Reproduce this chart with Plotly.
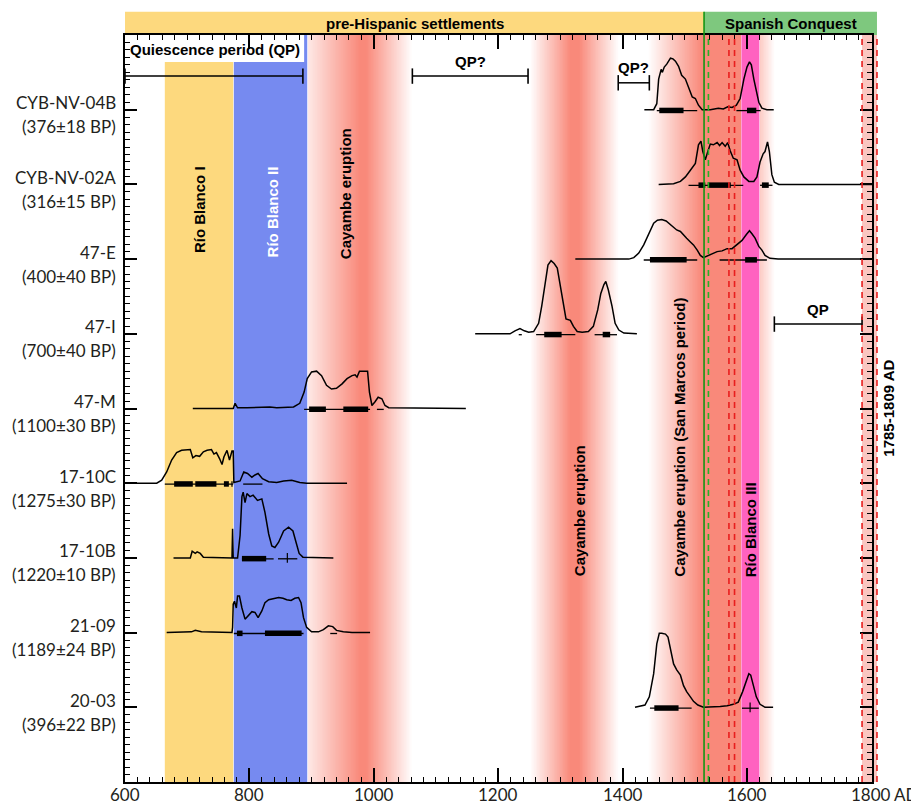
import numpy as np
import plotly.graph_objects as go

# ---------------- data ----------------
sample_names = ["CYB-NV-04B", "CYB-NV-02A", "47-E", "47-I", "47-M",
                "17-10C", "17-10B", "21-09", "20-03"]
sample_ages = ["(376±18 BP)", "(316±15 BP)", "(400±40 BP)", "(700±40 BP)",
               "(1100±30 BP)", "(1275±30 BP)", "(1220±10 BP)", "(1189±24 BP)",
               "(396±22 BP)"]
sample_levels = [9, 8, 7, 6, 5, 4, 3, 2, 1]

x_tick_vals = [600, 800, 1000, 1200, 1400, 1600, 1800]
x_tick_text = ["600", "800", "1000", "1200", "1400", "1600", "1800"]

# calibrated probability curves (year AD, relative probability)
cyb04b_yr = [1435, 1450, 1455, 1458, 1462, 1464, 1467, 1471, 1477, 1481, 1485, 1490, 1495, 1501,
             1506, 1512, 1517, 1522, 1528, 1541, 1554, 1562, 1569, 1576, 1583, 1589, 1595, 1600,
             1604, 1607, 1611, 1615, 1619, 1624, 1632, 1643]
cyb04b_p = [0, 0, 0.08, 0.41, 0.54, 0.50, 0.57, 0.61, 0.69, 0.68, 0.65, 0.58, 0.46, 0.41, 0.30,
            0.17, 0.15, 0.06, 0, 0, 0.02, 0.01, 0.04, 0.03, 0.06, 0.15, 0.41, 0.57, 0.64, 0.60,
            0.41, 0.24, 0.10, 0.02, 0, 0]
cyb04b_1s = [(1459, 1498), (1600, 1615)]
cyb04b_2s = [(1455, 1520), (1583, 1622)]

cyb02a_yr = [1458, 1482, 1493, 1501, 1509, 1517, 1522, 1526, 1529, 1533, 1537, 1541, 1546, 1552,
             1556, 1560, 1565, 1569, 1573, 1578, 1584, 1589, 1595, 1603, 1611, 1616, 1621, 1626,
             1629, 1633, 1636, 1640, 1644, 1651, 1801]
cyb02a_p = [0, 0.01, 0.04, 0.10, 0.19, 0.28, 0.53, 0.58, 0.44, 0.33, 0.44, 0.54, 0.53, 0.56,
            0.52, 0.56, 0.51, 0.56, 0.45, 0.35, 0.33, 0.19, 0.10, 0.04, 0.04, 0.10, 0.30, 0.41,
            0.44, 0.57, 0.44, 0.13, 0.03, 0, 0]
cyb02a_1s = [(1522, 1533), (1537, 1574), (1624, 1635)]
cyb02a_2s = [(1506, 1594), (1621, 1641)]

e47_yr = [1324, 1410, 1418, 1426, 1434, 1442, 1450, 1456, 1463, 1470, 1477, 1482, 1487, 1493,
          1498, 1503, 1509, 1514, 1520, 1525, 1530, 1536, 1544, 1552, 1560, 1568, 1576, 1584,
          1592, 1599, 1604, 1608, 1613, 1619, 1624, 1629, 1637, 1650, 1801]
e47_p = [0, 0, 0.02, 0.08, 0.19, 0.34, 0.48, 0.52, 0.53, 0.51, 0.46, 0.43, 0.39, 0.37, 0.32,
         0.28, 0.23, 0.19, 0.12, 0.05, 0.02, 0.04, 0.07, 0.10, 0.11, 0.14, 0.14, 0.19, 0.25,
         0.33, 0.38, 0.34, 0.28, 0.17, 0.12, 0.05, 0.01, 0, 0]
e47_1s = [(1444, 1503), (1597, 1616)]
e47_2s = [(1434, 1520), (1556, 1632)]

i47_yr = [1163, 1219, 1227, 1235, 1242, 1249, 1257, 1265, 1270, 1276, 1280, 1285, 1290, 1295,
          1300, 1305, 1309, 1316, 1321, 1327, 1335, 1345, 1353, 1360, 1365, 1370, 1373, 1377,
          1383, 1388, 1394, 1402, 1423]
i47_p = [0, 0, 0.04, 0.07, 0.04, 0.02, 0.03, 0.14, 0.37, 0.72, 0.92, 0.98, 0.94, 0.88, 0.63,
         0.37, 0.20, 0.18, 0.10, 0.03, 0.02, 0.03, 0.10, 0.32, 0.54, 0.66, 0.70, 0.59, 0.37,
         0.14, 0.05, 0.01, 0]
i47_1s = [(1274, 1302), (1368, 1380)]
i47_2s = [(1233, 1238), (1261, 1324), (1355, 1391)]

m47_yr = [709, 774, 777, 781, 796, 833, 844, 871, 881, 888, 893, 900, 908, 916, 924, 932, 940,
          949, 957, 965, 970, 973, 977, 982, 986, 990, 993, 997, 1002, 1007, 1013, 1018, 1024, 1148]
m47_p = [0, 0, 0.07, 0.01, 0.01, 0.02, 0.01, 0.02, 0.07, 0.22, 0.40, 0.49, 0.50, 0.44, 0.31,
         0.26, 0.27, 0.33, 0.40, 0.44, 0.45, 0.42, 0.50, 0.50, 0.51, 0.50, 0.22, 0.04, 0.09,
         0.15, 0.13, 0.04, 0.01, 0]
m47_1s = [(896, 923), (951, 991)]
m47_2s = [(888, 994), (1005, 1016)]

c1710_yr = [600, 651, 659, 667, 675, 683, 691, 699, 705, 709, 714, 720, 726, 732, 739, 743, 747,
            752, 756, 759, 764, 768, 772, 774, 775, 785, 791, 797, 804, 809, 814, 821, 831, 844,
            855, 868, 881, 892, 957]
c1710_p = [0, 0, 0.04, 0.15, 0.31, 0.41, 0.44, 0.44, 0.45, 0.34, 0.37, 0.36, 0.42, 0.44, 0.45,
           0.39, 0.41, 0.33, 0.25, 0.35, 0.44, 0.31, 0.43, 0.43, 0.01, 0.03, 0.15, 0.13, 0.08,
           0.11, 0.13, 0.06, 0.02, 0.01, 0.03, 0.04, 0.01, 0, 0]
c1710_1s = [(679, 709), (713, 747), (759, 767), (771, 773)]
c1710_2s = [(664, 774), (790, 821)]

b1710_yr = [678, 705, 708, 713, 716, 721, 726, 772, 773, 774, 781, 785, 788, 790, 793, 796, 801,
            806, 813, 820, 825, 831, 836, 841, 847, 855, 863, 870, 875, 880, 886, 935]
b1710_p = [0, 0, 0.09, 0.06, 0.08, 0.06, 0.01, 0, 0.39, 0, 0, 0.30, 0.82, 0.88, 0.74, 0.86,
           0.82, 0.84, 0.77, 0.79, 0.61, 0.32, 0.16, 0.14, 0.21, 0.36, 0.41, 0.36, 0.21, 0.06,
           0.01, 0]
b1710_1s = [(788, 827)]
b1710_2s = [(788, 839), (846, 877)]

s2109_yr = [667, 707, 713, 718, 723, 772, 773, 774, 776, 779, 781, 784, 788, 793, 798, 804, 809,
            814, 820, 825, 831, 839, 847, 854, 860, 867, 873, 879, 883, 887, 892, 900, 911, 919,
            927, 934, 940, 951, 965, 994]
s2109_p = [0, 0.01, 0.03, 0.02, 0.01, 0, 0.07, 0.38, 0.42, 0.33, 0.49, 0.49, 0.33, 0.18, 0.22,
           0.28, 0.27, 0.20, 0.29, 0.40, 0.44, 0.46, 0.47, 0.46, 0.44, 0.43, 0.46, 0.47, 0.40,
           0.20, 0.07, 0.01, 0.01, 0.04, 0.09, 0.08, 0.03, 0.01, 0, 0]
s2109_1s = [(780, 789), (825, 884)]
s2109_2s = [(775, 887), (930, 941)]

s2003_yr = [1420, 1436, 1443, 1450, 1455, 1459, 1463, 1469, 1473, 1477, 1482, 1487, 1493, 1498,
            1503, 1509, 1514, 1521, 1530, 1557, 1568, 1578, 1586, 1593, 1599, 1603, 1606, 1611,
            1615, 1621, 1629, 1642]
s2003_p = [0, 0.03, 0.14, 0.45, 0.85, 0.99, 0.99, 0.98, 0.94, 0.76, 0.58, 0.50, 0.43, 0.29,
           0.21, 0.14, 0.08, 0.03, 0, 0.01, 0.02, 0.04, 0.07, 0.21, 0.36, 0.45, 0.43, 0.27,
           0.14, 0.04, 0, 0]
s2003_1s = [(1451, 1490)]
s2003_2s = [(1444, 1511), (1592, 1619)]

median_marks_year = [861, 1605]
median_marks_level = [3, 1]

# periods
rio_blanco_names = ["Río Blanco I", "Río Blanco II", "Río Blanco III"]
rio_blanco_start = [664, 775, 1591]
rio_blanco_end = [774, 893, 1620]

eruption_start = [875, 1251, 1441]
eruption_peak_lo = [978, 1316, 1527]
eruption_peak_hi = [988, 1330, 1590]
eruption_end = [1062, 1394, 1645]

prehispanic_span = [600, 1531]
conquest_span = [1531, 1809]
conquest_line = 1531
green_dash_year = 1538
red_dash_years = [1571, 1580]
late_event_span = [1785, 1809]

qp_start = [600, 1062, 1393, 1644]
qp_end = [886, 1248, 1443, 1785]
qp_level = [9.45, 9.45, 9.36, 6.13]
qp_text = ["", "QP?", "QP?", "QP"]

# ---------------- figure ----------------
X0, X1 = 600, 1801
Y0, Y1 = 0, 10


def to_paper(year):
    return (year - X0) / (X1 - X0)


BOLD = dict(family="Liberation Sans, Arial, sans-serif", size=15, color="black", weight="bold")
LAB = dict(family="Lato, sans-serif", size=17, color="#231f20")

YELLOW = "rgb(253,217,126)"
BLUE = "rgb(118,138,240)"
MAGENTA = "rgb(255,98,192)"
GREEN_BAND = "rgb(126,200,126)"
RED_PEAK = "rgb(249,137,122)"

fig = go.Figure()
shapes = []

# solid period bands
band_cols = [YELLOW, BLUE, MAGENTA]
for s, e, c in zip(rio_blanco_start, rio_blanco_end, band_cols):
    shapes.append(dict(type="rect", xref="x", yref="y", x0=s, x1=e, y0=Y0, y1=Y1,
                       fillcolor=c, line=dict(width=0), layer="below"))
# white label box
shapes.append(dict(type="rect", xref="x", yref="y", x0=X0, x1=888, y0=9.64, y1=Y1,
                   fillcolor="white", line=dict(width=0), layer="below"))
# late light band (outside axis partly)
shapes.append(dict(type="rect", xref="paper", yref="paper", x0=to_paper(late_event_span[0]),
                   x1=to_paper(late_event_span[1]), y0=0, y1=1,
                   fillcolor="rgb(250,198,192)", line=dict(width=0), layer="below"))
# top period bands
shapes.append(dict(type="rect", xref="paper", yref="paper", x0=to_paper(prehispanic_span[0]),
                   x1=to_paper(prehispanic_span[1]), y0=1.0, y1=1.031,
                   fillcolor=YELLOW, line=dict(width=0), layer="below"))
shapes.append(dict(type="rect", xref="paper", yref="paper", x0=to_paper(conquest_span[0]),
                   x1=to_paper(conquest_span[1]), y0=1.0, y1=1.031,
                   fillcolor=GREEN_BAND, line=dict(width=0), layer="below"))

# gradient eruption bands (heatmap)
edges = np.arange(X0, X1 + 1, 1.0)
centers = edges[:-1] + 0.5
inten = np.zeros_like(centers)
for s, plo, phi, e in zip(eruption_start, eruption_peak_lo, eruption_peak_hi, eruption_end):
    v = np.interp(centers, [s, plo, phi, e], [0, 1, 1, 0], left=0, right=0)
    inten = np.maximum(inten, v)
mask = inten <= 0.001
for s, e in zip(rio_blanco_start, rio_blanco_end):
    mask |= (centers >= s) & (centers <= e + 1)
z = np.where(mask, np.nan, inten)
fig.add_trace(go.Heatmap(x=edges, y=[Y0, Y1], z=[z], zmin=0, zmax=1,
                         colorscale=[[0, "rgb(255,255,255)"], [1, RED_PEAK]],
                         showscale=False, hoverinfo="skip"))

# vertical reference lines
shapes.append(dict(type="line", xref="x", yref="paper", x0=conquest_line, x1=conquest_line,
                   y0=0, y1=1.031, line=dict(color="rgb(20,150,20)", width=1.6), layer="above"))
shapes.append(dict(type="line", xref="x", yref="paper", x0=green_dash_year, x1=green_dash_year,
                   y0=0, y1=1, line=dict(color="rgb(40,175,40)", width=1.6, dash="6px,5px"),
                   layer="above"))
for yr in red_dash_years:
    shapes.append(dict(type="line", xref="x", yref="paper", x0=yr, x1=yr, y0=0, y1=1,
                       line=dict(color="rgb(232,30,30)", width=1.6, dash="6px,5px"), layer="above"))
for yr in late_event_span:
    shapes.append(dict(type="line", xref="paper", yref="paper", x0=to_paper(yr), x1=to_paper(yr),
                       y0=0, y1=1, line=dict(color="rgb(232,30,30)", width=1.6, dash="6px,5px"),
                       layer="above"))

# sample curves
samples = [
    (cyb04b_yr, cyb04b_p, cyb04b_1s, cyb04b_2s),
    (cyb02a_yr, cyb02a_p, cyb02a_1s, cyb02a_2s),
    (e47_yr, e47_p, e47_1s, e47_2s),
    (i47_yr, i47_p, i47_1s, i47_2s),
    (m47_yr, m47_p, m47_1s, m47_2s),
    (c1710_yr, c1710_p, c1710_1s, c1710_2s),
    (b1710_yr, b1710_p, b1710_1s, b1710_2s),
    (s2109_yr, s2109_p, s2109_1s, s2109_2s),
    (s2003_yr, s2003_p, s2003_1s, s2003_2s),
]
for (yr, p, s1, s2), lvl in zip(samples, sample_levels):
    fig.add_trace(go.Scatter(x=yr, y=[lvl + v for v in p], mode="lines",
                             line=dict(color="black", width=1.5), hoverinfo="skip",
                             showlegend=False))
    xs, ys = [], []
    for a, b in s2:
        xs += [a, b, None]
        ys += [lvl - 0.012, lvl - 0.012, None]
    fig.add_trace(go.Scatter(x=xs, y=ys, mode="lines", line=dict(color="black", width=1.3),
                             hoverinfo="skip", showlegend=False))
    xs, ys = [], []
    for a, b in s1:
        xs += [a, b, None]
        ys += [lvl - 0.01, lvl - 0.01, None]
    fig.add_trace(go.Scatter(x=xs, y=ys, mode="lines", line=dict(color="black", width=5.5),
                             hoverinfo="skip", showlegend=False))

fig.add_trace(go.Scatter(x=median_marks_year, y=median_marks_level, mode="markers",
                         marker=dict(symbol="line-ns", size=7, line=dict(width=1.2, color="black")),
                         hoverinfo="skip", showlegend=False))

# quiescence periods
for s, e, lvl in zip(qp_start, qp_end, qp_level):
    fig.add_trace(go.Scatter(x=[s, e], y=[lvl, lvl], mode="lines+markers",
                             line=dict(color="black", width=1.5),
                             marker=dict(symbol="line-ns", size=11,
                                         line=dict(width=1.6, color="black")),
                             hoverinfo="skip", showlegend=False))

annotations = []
for s, e, lvl, t in zip(qp_start, qp_end, qp_level, qp_text):
    if t:
        annotations.append(dict(x=(s + e) / 2, y=lvl, xref="x", yref="y", text=t,
                                showarrow=False, font=BOLD, yshift=15))
annotations.append(dict(x=0, y=9.81, xref="paper", yref="y", xanchor="left", xshift=3,
                        yanchor="middle", text="Quiescence period (QP)", showarrow=False,
                        font=BOLD))

# period titles
annotations.append(dict(x=sum(prehispanic_span) / 2, y=1.0155, xref="x", yref="paper",
                        xanchor="center", yanchor="middle",
                        text="pre-Hispanic settlements", showarrow=False, font=BOLD))
annotations.append(dict(x=to_paper(sum(conquest_span) / 2), y=1.0155, xref="paper",
                        yref="paper", xanchor="center", yanchor="middle",
                        text="Spanish Conquest", showarrow=False, font=BOLD))

# rotated band labels
rot_labels = [
    ("Río Blanco I", 721, 7.66, "black"),
    ("Río Blanco II", 837, 7.63, "white"),
    ("Cayambe eruption", 955, 7.88, "black"),
    ("Cayambe eruption", 1332, 3.63, "black"),
    ("Cayambe eruption (San Marcos period)", 1492, 4.62, "black"),
    ("Río Blanco III", 1605, 3.37, "black"),
]
for t, x, y, c in rot_labels:
    annotations.append(dict(x=x, y=y, xref="x", yref="y", text=t, textangle=-90,
                            xanchor="center", yanchor="middle",
                            showarrow=False, font=dict(BOLD, color=c)))
annotations.append(dict(x=to_paper(1827), y=5.0, xref="paper", yref="y", text="1785-1809 AD",
                        textangle=-90, xanchor="center", yanchor="middle", showarrow=False,
                        font=BOLD))

# sample labels
for name, age, lvl in zip(sample_names, sample_ages, sample_levels):
    annotations.append(dict(x=0, y=lvl, xref="paper", yref="y", xanchor="right", xshift=-7,
                            yanchor="middle", yshift=7, text=name, showarrow=False, font=LAB))
    annotations.append(dict(x=0, y=lvl, xref="paper", yref="y", xanchor="right", xshift=-7,
                            yanchor="middle", yshift=-17, text=age, showarrow=False, font=LAB))

# x tick labels (placed as text so they sit tight under the axis)
for v, t in zip(x_tick_vals, x_tick_text):
    annotations.append(dict(x=v, y=0, xref="x", yref="paper", xanchor="center",
                            yanchor="middle", yshift=-12, text=t, showarrow=False, font=LAB))
annotations.append(dict(x=1800, y=0, xref="x", yref="paper", xanchor="left", yanchor="middle",
                        xshift=21, yshift=-12, text="AD", showarrow=False, font=LAB))

# page body has an 8px margin: size the figure so the plot lands where the reference has it
fig.update_layout(
    width=911, height=797,
    margin=dict(l=117, r=47, t=27, b=23, autoexpand=False),
    paper_bgcolor="white", plot_bgcolor="rgba(0,0,0,0)",
    shapes=shapes, annotations=annotations, showlegend=False,
    xaxis=dict(range=[X0, X1], tickvals=x_tick_vals, showticklabels=False,
               ticks="inside", ticklen=14, tickwidth=1.5, tickcolor="black",
               showline=True, linecolor="black", linewidth=2, mirror="allticks",
               showgrid=False, zeroline=False, automargin=False,
               minor=dict(dtick=20, tick0=600, ticks="inside", ticklen=5, tickwidth=1,
                          tickcolor="black", showgrid=False)),
    yaxis=dict(range=[Y0, Y1], dtick=1, tick0=0, ticks="inside", ticklen=12, tickwidth=1.5,
               tickcolor="black", showline=True, linecolor="black", linewidth=2,
               mirror="allticks", showgrid=False, zeroline=False, showticklabels=False,
               automargin=False,
               minor=dict(dtick=0.1, ticks="inside", ticklen=5, tickwidth=1,
                          tickcolor="black", showgrid=False)),
)

fig.write_html("out.html")
